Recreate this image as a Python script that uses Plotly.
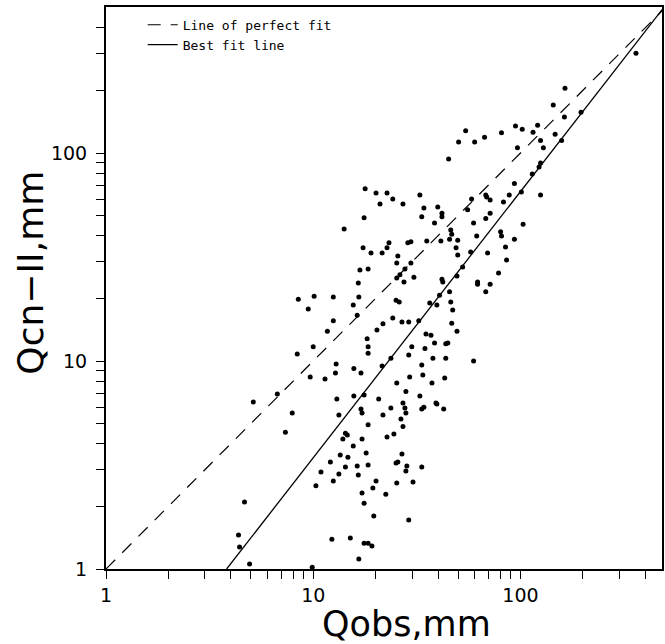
import plotly.graph_objects as go

q_obs = [361, 164, 144, 163, 196, 94.6, 102, 121, 115, 54.4, 50.3, 60.1, 67.1, 81, 125, 147, 129, 158, 96.7, 45.0,
         125, 123, 114, 93.5, 101, 125, 88.3, 82.8, 68.7, 68, 71.4, 58.1, 32.7, 34.2, 39.9, 41.8, 41.8, 33.4, 55.6, 71.4,
         59.4, 68, 46.1, 46.6, 38.5, 103, 35.3, 41.3, 45.5, 49.8, 61.5, 80.2, 81, 93.5, 29.6, 17.8, 20.1, 22.7, 24.2, 21,
         27.1, 17.6, 14.1, 23.2, 28.6, 17.4, 19.0, 21.5, 22.7, 25.6, 25.3, 29.6, 27.7, 16.8, 18.4, 26.2, 25.3, 27.4, 16.5, 8.47,
         10.1, 12.5, 16.6, 15.6, 9.46, 25.1, 26.0, 16.3, 24.2, 26.8, 28.9, 12.5, 21.7, 20.3, 11.7, 18.2, 18.4, 18.4, 10.0, 8.37,
         29.9, 28.9, 23.7, 12.9, 21.5, 15.7, 17.0, 12.8, 9.67, 11.4, 29.2, 25.3, 28.0, 6.71, 5.14, 13.0, 15.7, 17.6, 20.7, 27.1,
         30.6, 48.9, 49.8, 57.5, 69.4, 84.7, 85.7, 78.4, 52.6, 49.4, 41.8, 42.2, 62.1, 62.1, 71.4, 68, 45.5, 40.7, 46.1, 36.5,
         39.5, 47.1, 32.3, 46.6, 49.4, 35.0, 37.0, 34.6, 38.5, 43.6, 44.6, 37.8, 43.6, 59.4, 33.4, 33.8, 43.1, 37.4, 32.7, 39.1,
         7.92, 7.34, 4.66, 4.36, 4.41, 4.93, 9.89, 13.3, 17.0, 17.2, 21.7, 23.7, 27.7, 28.0, 26.5, 27.1, 18.4, 14.3, 14.6, 13.9,
         17.2, 22.7, 24.5, 15.6, 18.0, 13.5, 14.7, 26.8, 12.1, 25.1, 25.6, 28.3, 18.4, 14.3, 16.3, 10.9, 13.3, 16.5, 28.0, 12.5,
         20.1, 25.3, 30.3, 10.3, 19.4, 17.2, 22.4, 17.6, 19.6, 28.9, 12.3, 15.1, 17.6, 18.4, 19.2, 16.6, 33.4, 34.2, 39.5, 42.6,
         33.4]
q_cn = [302, 205, 170, 149, 157, 135, 130, 136, 126, 128, 113, 113, 119, 125, 115, 123, 106, 115, 106, 93.5,
        89.5, 85.7, 79.3, 71.4, 65, 62.9, 62.9, 58.1, 61.5, 62.9, 59.4, 60.1, 62.9, 54.4, 55, 51.4, 49.4, 49.4, 53.3, 51.4,
        46.1, 48.4, 42.6, 40.7, 46.1, 45.5, 37.8, 37.8, 38.5, 38.1, 39.9, 41.8, 39.9, 38.5, 37.4, 67.3, 64.3, 64.3, 60.1, 56.9,
        56.9, 48.9, 43.1, 37, 37, 35.0, 33.1, 33.1, 35.0, 32.0, 29.6, 29.6, 27.7, 27.4, 27.7, 26.0, 25.1, 24.0, 23.7, 19.8,
        20.5, 20.3, 20.3, 18.6, 17.8, 19.6, 19.2, 16.6, 16.1, 15.4, 15.4, 15.6, 15.1, 14.1, 13.9, 12.8, 11.7, 10.9, 11.7, 10.8,
        11.7, 10.7, 10.3, 9.67, 9.46, 9.2, 8.75, 8.75, 8.37, 8.19, 8.37, 7.84, 7.14, 6.94, 6.36, 6.57, 6.79, 6.87, 6.57, 6.28,
        25.3, 35.0, 32.3, 33.4, 33.1, 35.3, 30.6, 26.5, 28.3, 25.6, 24.7, 24.0, 24.0, 23.4, 23.4, 21.5, 21.5, 20.7, 19.2, 19.0,
        18.6, 17.6, 15.6, 15.2, 13.9, 13.5, 13.3, 11.5, 12.2, 12.1, 12.2, 10.3, 10.3, 10.0, 9.57, 8.57, 8.28, 7.84, 6.79, 6.28,
        5.62, 4.55, 2.10, 1.457, 1.276, 1.057, 1.02, 5.5, 5.88, 5.62, 5.5, 5.94, 5.94, 5.62, 5.26, 4.84, 4.94, 4.5, 4.41, 4.22,
        4.22, 4.31, 4.46, 3.90, 3.61, 3.53, 3.45, 3.57, 3.27, 3.23, 3.27, 3.13, 3.16, 3.09, 3.13, 2.93, 2.86, 2.83, 2.96, 2.65,
        2.65, 2.59, 2.62, 2.51, 2.45, 2.32, 2.29, 2.07, 1.80, 1.72, 1.39, 1.41, 1.33, 1.33, 1.29, 1.117, 5.88, 6.0, 6.21, 5.88,
        3.09]

perfect_x = [1, 500]
perfect_y = [1, 500]
bestfit_x = [3.82, 491]
bestfit_y = [1, 500]

# all tick positions (decades labelled, intermediate ones unlabelled)
tick_vals = [1, 2, 3, 4, 5, 6, 7, 8, 9, 10, 20, 30, 40, 50, 60, 70, 80, 90, 100, 200, 300, 400]
tick_text = ["1", "", "", "", "", "", "", "", "", "10", "", "", "", "", "", "", "", "", "100", "", "", ""]

x_title = "Qobs,mm"
y_title = "Qcn\u2212II,mm"

X_RANGE = [0, 2.683]
Y_RANGE = [0, 2.702]

fig = go.Figure()
fig.add_trace(go.Scatter(x=perfect_x, y=perfect_y, mode="lines", name="Line of perfect fit",
                         line=dict(color="black", width=1.2, dash="13px,10px")))
fig.add_trace(go.Scatter(x=bestfit_x, y=bestfit_y, mode="lines", name="Best fit line",
                         line=dict(color="black", width=1.3)))
fig.add_trace(go.Scatter(x=q_obs, y=q_cn, mode="markers", showlegend=False,
                         marker=dict(color="black", size=5, line=dict(width=0))))

axis_common = dict(
    type="log", showgrid=False, zeroline=False,
    showline=True, linecolor="black", linewidth=2, mirror=True,
    ticks="outside", ticklen=8, tickwidth=1.4, tickcolor="black",
    tickmode="array", tickvals=tick_vals, ticktext=tick_text,
    tickfont=dict(family="DejaVu Sans", size=19, color="black"),
)

fig.update_layout(
    xaxis=dict(**axis_common, range=X_RANGE),
    yaxis=dict(**axis_common, range=Y_RANGE, ticklabelstandoff=5),
)

fig.add_annotation(text=x_title, xref="paper", yref="paper", x=0.541, y=-0.097,
                   xanchor="center", yanchor="middle", showarrow=False,
                   font=dict(family="DejaVu Sans", size=35, color="black"))
fig.add_annotation(text=y_title, xref="paper", yref="paper", x=-0.136, y=0.528,
                   xanchor="center", yanchor="middle", showarrow=False, textangle=-90,
                   font=dict(family="DejaVu Sans", size=36, color="black"))

fig.update_layout(
    width=665, height=644,
    margin=dict(l=106, r=1, t=7, b=75),
    paper_bgcolor="white", plot_bgcolor="white",
    legend=dict(x=0.066, y=0.995, xanchor="left", yanchor="top", bgcolor="rgba(0,0,0,0)",
                font=dict(family="DejaVu Sans Mono", size=13, color="black"),
                itemwidth=30, tracegroupgap=0),
)

fig.write_html("out.html")
